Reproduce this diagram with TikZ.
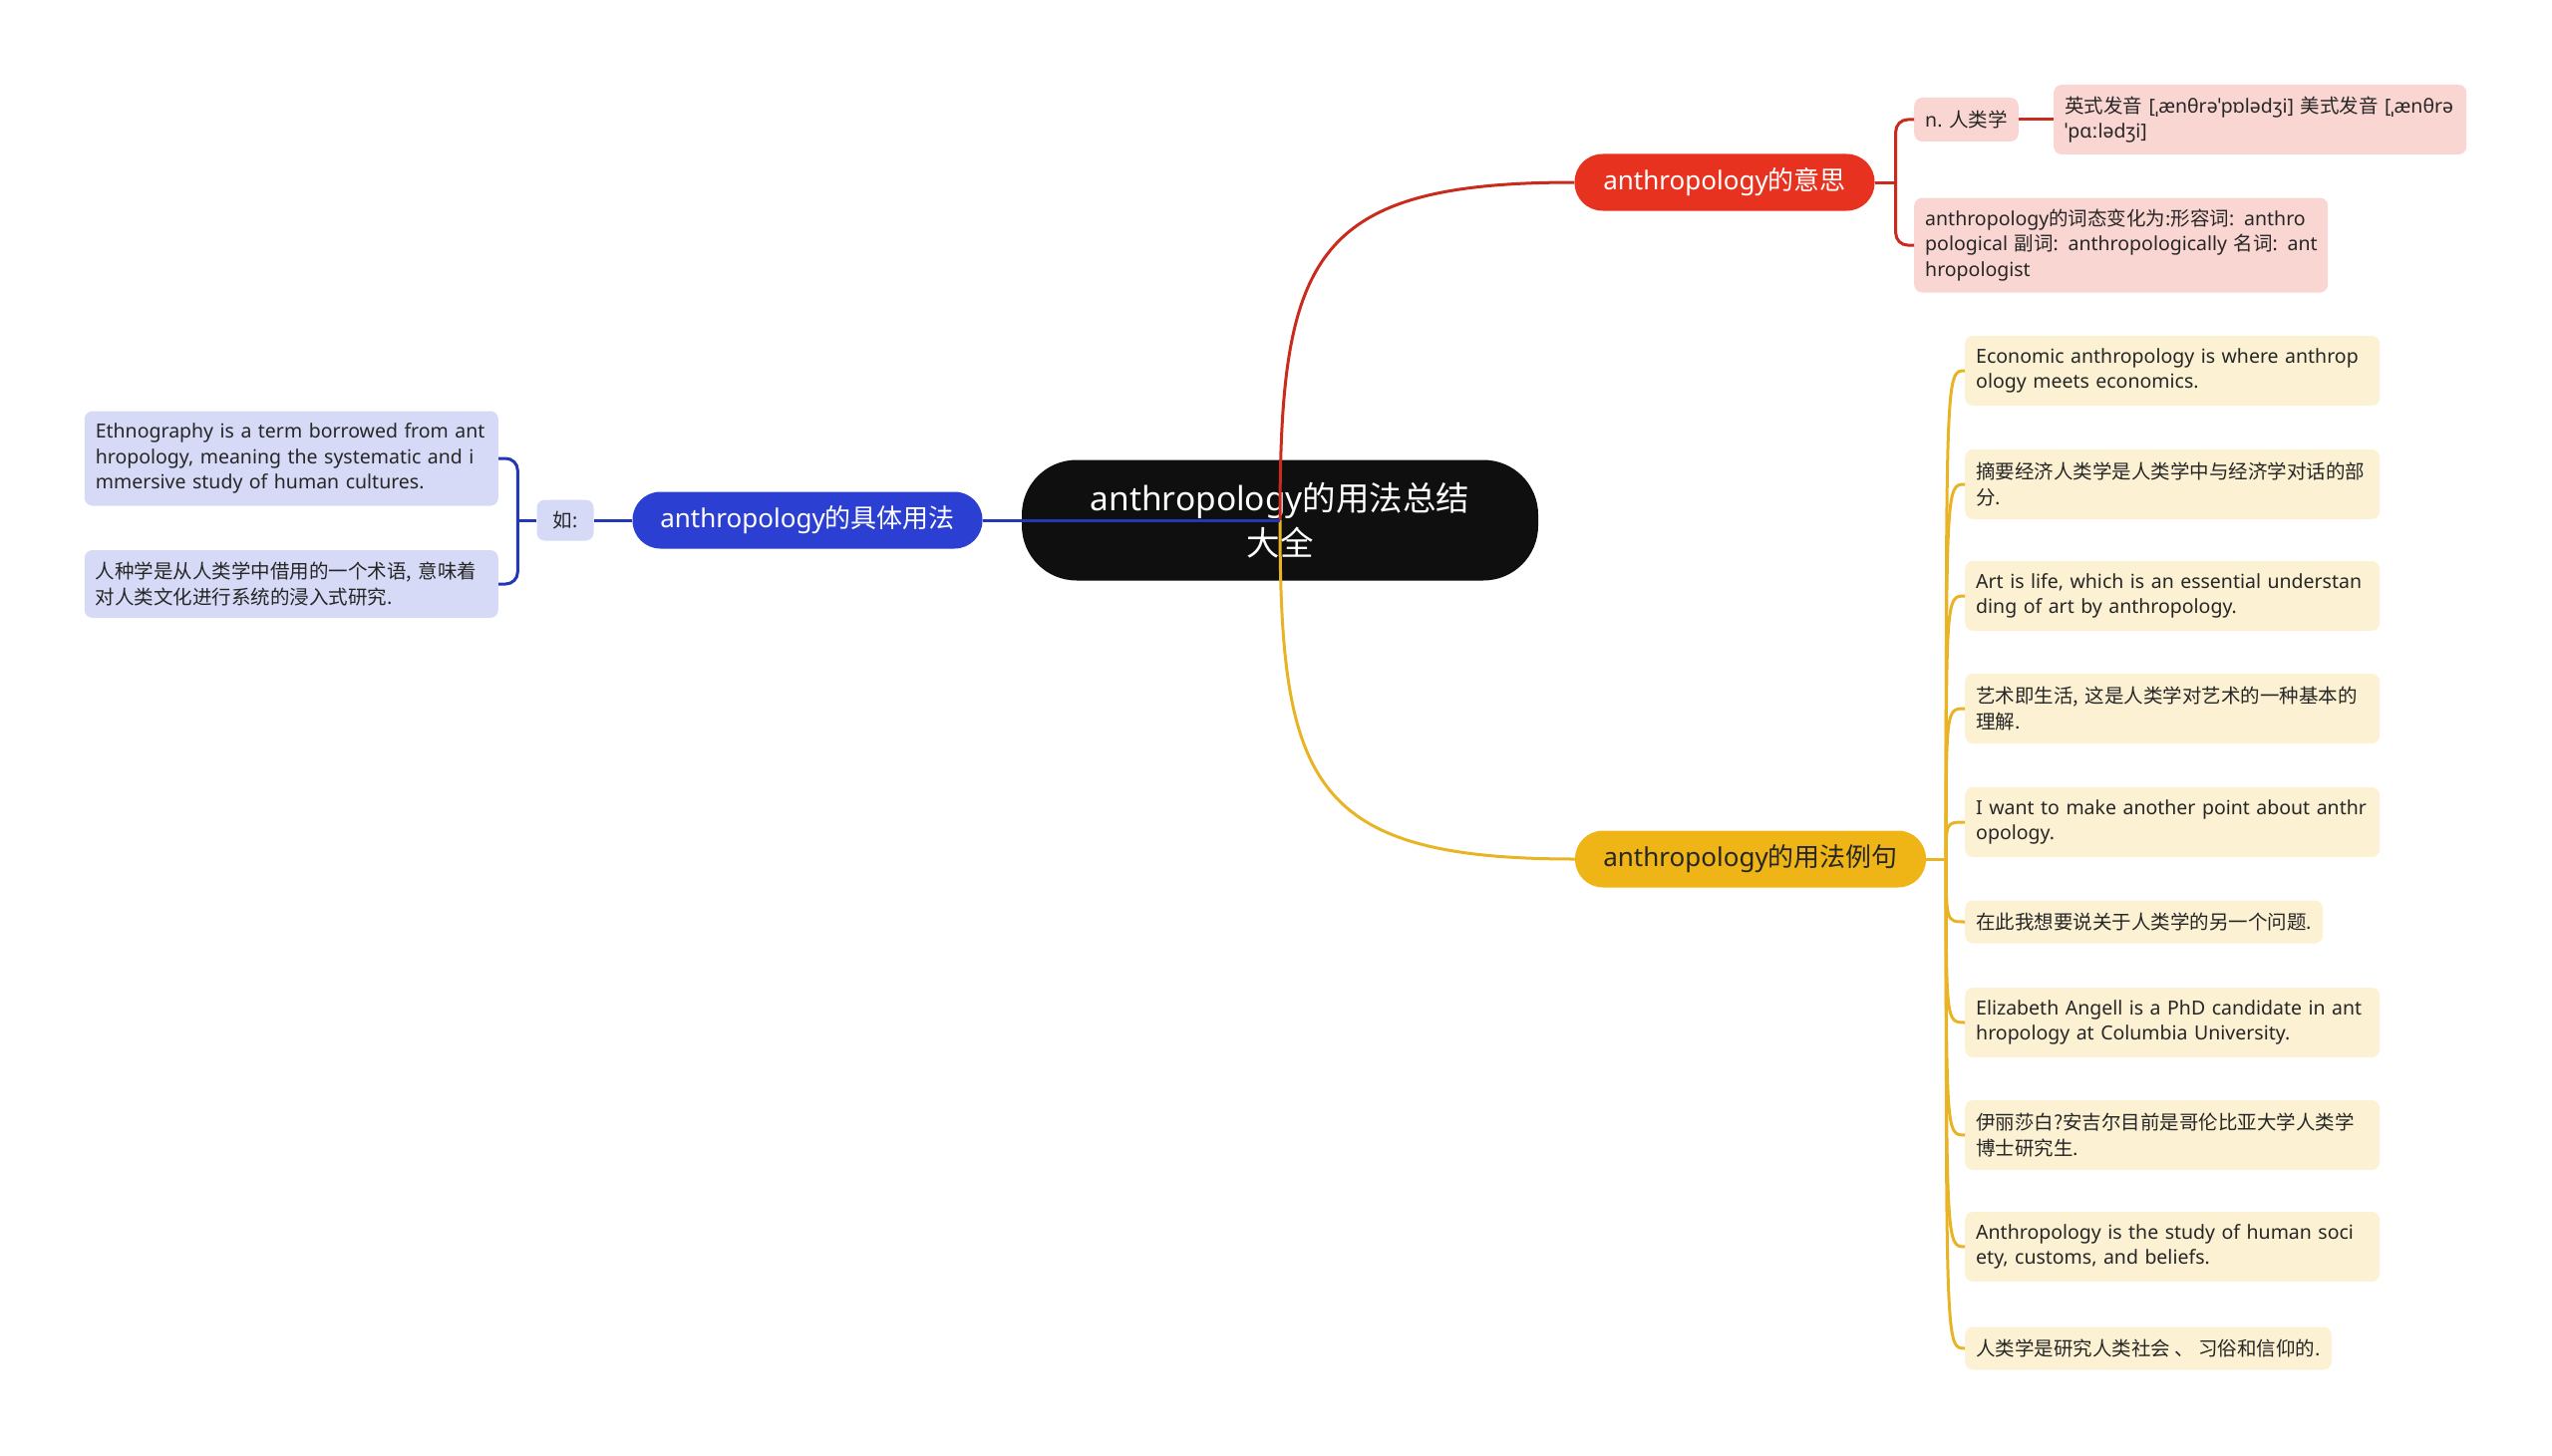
\documentclass[tikz,border=0pt]{standalone}
\usepackage{fontspec}
\setmainfont{Noto Sans}
\newfontfamily\cjkfont{Noto Sans CJK SC}
\newcommand{\cjk}[1]{{\cjkfont #1}}
\definecolor{rootfill}{HTML}{0F0F0F}
\definecolor{meanred}{HTML}{E7321F}
\definecolor{meanline}{HTML}{C92B1D}
\definecolor{meanleaf}{HTML}{FAD6D2}
\definecolor{usegold}{HTML}{EFB516}
\definecolor{useline}{HTML}{E8B425}
\definecolor{useleaf}{HTML}{FCF1D3}
\definecolor{specblue}{HTML}{2B40D2}
\definecolor{specline}{HTML}{2438B4}
\definecolor{specleaf}{HTML}{D6DAF6}
\definecolor{leaftext}{HTML}{262626}

\begin{document}
\begin{tikzpicture}[x=1pt, y=1pt,
  rootnode/.style={fill=rootfill, text=white, rounded corners=55pt, minimum width=518pt,
    minimum height=121pt, inner sep=0pt, align=center, font=\fontsize{33.5}{45}\selectfont},
  branch/.style={rounded corners=28pt, minimum height=57pt, inner sep=0pt,
    font=\fontsize{26}{30}\selectfont},
  leaf/.style={rounded corners=8pt, inner xsep=11pt, inner ysep=0pt, align=left,
    text=leaftext, anchor=west, font=\fontsize{19.5}{25.5}\selectfont},
  twoline/.style={text width=394pt, minimum height=70pt},
  oneline/.style={minimum height=43pt},
  link/.style={line width=3pt}
]
\useasboundingbox (0,0) rectangle (2560,-1461);

% centre
\node[rootnode] (root) at (1284,-522) {anthropology\cjk{的用法总结}\\\cjk{大全}};

% meaning
\node[branch, fill=meanred, text=white, minimum width=301pt] (mean) at (1730,-183) {anthropology\cjk{的意思}};
\node[leaf, oneline, fill=meanleaf, minimum height=44pt] (noun) at (1920,-120) {n. \cjk{人类学}};
\node[leaf, twoline, fill=meanleaf, text width=392pt] (pron) at (2060,-120)
  {\cjk{英式发音} [ˌænθrəˈpɒlədʒi] \cjk{美式发音} [ˌænθrə\\ˈpɑːlədʒi]};
\node[leaf, fill=meanleaf, text width=393pt, minimum height=95pt] (morph) at (1920,-246)
  {\mbox{anthropology\cjk{的词态变化为:形容词}: anthro}\\
   \mbox{pological \cjk{副词}: anthropologically \cjk{名词}: ant}\\
   \mbox{hropologist}};

% usage examples
\node[branch, fill=usegold, text=leaftext, minimum width=352pt] (use) at (1756,-862) {anthropology\cjk{的用法例句}};
\node[leaf, twoline, fill=useleaf] (ex1) at (1971,-372) {Economic anthropology is where anthrop\\ology meets economics.};
\node[leaf, twoline, fill=useleaf] (ex2) at (1971,-486) {\cjk{摘要经济人类学是人类学中与经济学对话的部}\\\cjk{分.}};
\node[leaf, twoline, fill=useleaf] (ex3) at (1971,-598) {Art is life, which is an essential understan\\ding of art by anthropology.};
\node[leaf, twoline, fill=useleaf] (ex4) at (1971,-711) {\cjk{艺术即生活, 这是人类学对艺术的一种基本的}\\\cjk{理解.}};
\node[leaf, twoline, fill=useleaf] (ex5) at (1971,-825) {I want to make another point about anthr\\opology.};
\node[leaf, oneline, fill=useleaf] (ex6) at (1971,-925) {\cjk{在此我想要说关于人类学的另一个问题.}};
\node[leaf, twoline, fill=useleaf] (ex7) at (1971,-1026) {Elizabeth Angell is a PhD candidate in ant\\hropology at Columbia University.};
\node[leaf, twoline, fill=useleaf] (ex8) at (1971,-1139) {\cjk{伊丽莎白?安吉尔目前是哥伦比亚大学人类学}\\\cjk{博士研究生.}};
\node[leaf, twoline, fill=useleaf] (ex9) at (1971,-1251) {Anthropology is the study of human soci\\ety, customs, and beliefs.};
\node[leaf, oneline, fill=useleaf] (ex10) at (1971,-1353) {\cjk{人类学是研究人类社会 、 习俗和信仰的.}};

% specific usage
\node[branch, fill=specblue, text=white, minimum width=351pt] (spec) at (810,-522) {anthropology\cjk{的具体用法}};
\node[leaf, fill=specleaf, minimum width=57pt, minimum height=41pt, inner xsep=0pt, align=center, anchor=center] (ru) at (567,-522) {\cjk{如}:};
\node[leaf, fill=specleaf, text width=393pt, minimum height=95pt, anchor=east] (eth) at (500,-460)
  {Ethnography is a term borrowed from ant\\hropology, meaning the systematic and i\\mmersive study of human cultures.};
\node[leaf, fill=specleaf, text width=393pt, minimum height=68pt, anchor=east] (rzx) at (500,-586)
  {\cjk{人种学是从人类学中借用的一个术语, 意味着}\\\cjk{对人类文化进行系统的浸入式研究.}};

% connectors
\draw[link, meanline] (root.center) to[out=90, in=180, looseness=1.5] (mean.west);
\draw[link, useline] (root.center) to[out=-90, in=180, looseness=1.5] (use.west);
\draw[link, specline] (root.center) -- (spec.east);

\draw[link, meanline] (mean.east) -- ++(21,0) coordinate (mj);
\draw[link, meanline, rounded corners=12pt] (mj) |- (noun.west);
\draw[link, meanline, rounded corners=12pt] (mj) |- (morph.west);
\draw[link, meanline] (noun.east) -- (pron.west);

\draw[link, useline] (use.east) -- ++(20,0) coordinate (uj);
\foreach \ex in {ex1,ex2,ex3,ex4,ex5,ex6,ex7,ex8,ex9,ex10}
  \draw[link, useline] (uj) .. controls (uj |- \ex.west) .. (\ex.west);

\draw[link, specline] (spec.west) -- (ru.east);
\draw[link, specline] (ru.west) -- ++(-19,0) coordinate (sj);
\draw[link, specline, rounded corners=12pt] (sj) |- (eth.east);
\draw[link, specline, rounded corners=12pt] (sj) |- (rzx.east);
\end{tikzpicture}
\end{document}
